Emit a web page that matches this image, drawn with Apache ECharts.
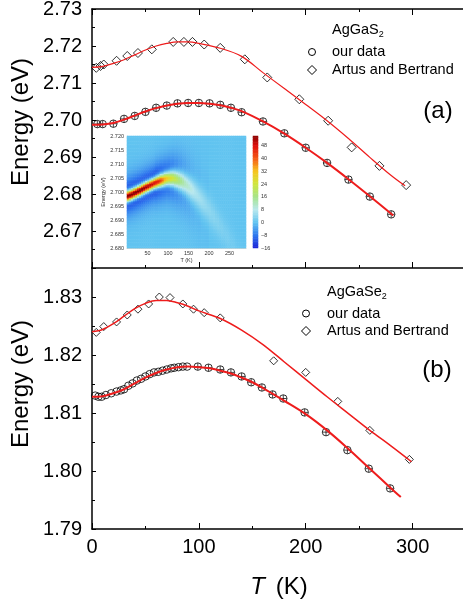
<!DOCTYPE html>
<html>
<head>
<meta charset="utf-8">
<script src="https://cdn.jsdelivr.net/npm/echarts@6/dist/echarts.min.js"></script>
<style>
  html, body { margin: 0; padding: 0; background: #fff; }
  #c { width: 463px; height: 605px; }
</style>
</head>
<body>
<div id="c"></div>
<script>
// ---------- AgGaS2, panel (a) ----------
const sOurT = [5, 10, 20, 30, 40, 50, 60, 70, 80, 90, 100, 110, 120, 130, 140, 160, 180, 200, 220, 240, 260, 280];
const sOurE = [2.6989, 2.6989, 2.6990, 2.7003, 2.7011, 2.7022, 2.7033, 2.7039, 2.7045, 2.7046, 2.7046, 2.7045, 2.7041, 2.7033, 2.7021, 2.6996, 2.6964, 2.6925, 2.6884, 2.6839, 2.6793, 2.6745];
const sArtT = [4, 8, 11, 23, 33, 43, 56, 76, 86, 94, 105, 120, 143, 164, 194, 221, 243, 269, 294];
const sArtE = [2.7141, 2.7146, 2.7150, 2.7160, 2.7173, 2.7181, 2.7191, 2.7211, 2.7211, 2.7211, 2.7204, 2.7195, 2.7164, 2.7115, 2.7056, 2.6998, 2.6926, 2.6876, 2.6824];
const sOurFitT = [0, 10, 20, 30, 40, 50, 60, 70, 80, 90, 100, 110, 120, 130, 140, 160, 180, 200, 220, 240, 260, 282];
const sOurFitE = [2.6987, 2.6988, 2.6992, 2.7001, 2.7012, 2.7023, 2.7032, 2.7039, 2.7044, 2.7046, 2.7046, 2.7044, 2.7040, 2.7033, 2.7024, 2.6996, 2.6963, 2.6925, 2.6884, 2.6840, 2.6794, 2.6742];
const sArtFitT = [0, 10, 20, 30, 40, 50, 60, 70, 80, 90, 100, 120, 140, 160, 180, 200, 220, 240, 260, 280, 293];
const sArtFitE = [2.7142, 2.7145, 2.7153, 2.7163, 2.7176, 2.7189, 2.7200, 2.7207, 2.7211, 2.7211, 2.7207, 2.7194, 2.7172, 2.7128, 2.7085, 2.7042, 2.6998, 2.6950, 2.6899, 2.6850, 2.6822];

// ---------- AgGaSe2, panel (b) ----------
const seOurT = [3, 6, 9, 13, 18, 23, 27, 30, 34, 38, 42, 46, 50, 54, 58, 62, 66, 70, 74, 77, 81, 85, 89, 99, 109, 120, 130, 140, 149, 159, 169, 179, 199, 219, 239, 259, 279];
const seOurE = [1.8130, 1.8128, 1.8128, 1.8131, 1.8134, 1.8137, 1.8139, 1.8141, 1.8147, 1.8151, 1.8156, 1.8159, 1.8163, 1.8167, 1.8170, 1.8171, 1.8173, 1.8175, 1.8177, 1.8178, 1.8179, 1.8180, 1.8180, 1.8180, 1.8178, 1.8175, 1.8170, 1.8163, 1.8153, 1.8144, 1.8132, 1.8125, 1.8101, 1.8067, 1.8036, 1.8004, 1.7970];
const seArtT = [4, 11, 23, 33, 43, 53, 63, 73, 85, 95, 105, 120, 170, 200, 230, 260, 297];
const seArtE = [1.8239, 1.8249, 1.8257, 1.8269, 1.8279, 1.8288, 1.8300, 1.8299, 1.8288, 1.8279, 1.8273, 1.8264, 1.8190, 1.8170, 1.8120, 1.8070, 1.8020];
const seOurFitT = [0, 10, 20, 30, 40, 50, 60, 70, 80, 90, 100, 110, 120, 130, 140, 150, 160, 170, 180, 200, 220, 240, 260, 280, 289];
const seOurFitE = [1.8128, 1.8129, 1.8134, 1.8141, 1.8151, 1.8161, 1.8169, 1.8175, 1.8179, 1.8180, 1.8179, 1.8177, 1.8173, 1.8168, 1.8161, 1.8153, 1.8143, 1.8132, 1.8121, 1.8098, 1.8070, 1.8038, 1.8004, 1.7970, 1.7955];
const seArtFitT = [0, 10, 20, 30, 40, 50, 60, 70, 80, 90, 100, 120, 140, 160, 180, 200, 220, 240, 260, 280, 299];
const seArtFitE = [1.8240, 1.8244, 1.8254, 1.8267, 1.8280, 1.8289, 1.8294, 1.8294, 1.8290, 1.8284, 1.8276, 1.8263, 1.8243, 1.8218, 1.8188, 1.8158, 1.8128, 1.8099, 1.8070, 1.8043, 1.8016];

// ---------- inset map: band centre, height, width and side lobes per 5 K column ----------
const mapT = [2.5, 7.5, 12.5, 17.5, 22.5, 27.5, 32.5, 37.5, 42.5, 47.5,
  52.5, 57.5, 62.5, 67.5, 72.5, 77.5, 82.5, 87.5, 92.5, 97.5,
  102.5, 107.5, 112.5, 117.5, 122.5, 127.5, 132.5, 137.5, 142.5, 147.5,
  152.5, 157.5, 162.5, 167.5, 172.5, 177.5, 182.5, 187.5, 192.5, 197.5,
  202.5, 207.5, 212.5, 217.5, 222.5, 227.5, 232.5, 237.5, 242.5, 247.5,
  252.5, 257.5, 262.5, 267.5, 272.5, 277.5, 282.5, 287.5];
const mapE = [2.6986, 2.6989, 2.6992, 2.6996, 2.6999, 2.7003, 2.7006, 2.7010, 2.7014, 2.7018,
  2.7021, 2.7025, 2.7028, 2.7032, 2.7035, 2.7038, 2.7041, 2.7043, 2.7046, 2.7048,
  2.7049, 2.7049, 2.7049, 2.7047, 2.7045, 2.7042, 2.7039, 2.7035, 2.7030, 2.7024,
  2.7018, 2.7011, 2.7004, 2.6996, 2.6988, 2.6979, 2.6970, 2.6961, 2.6952, 2.6942,
  2.6932, 2.6922, 2.6911, 2.6901, 2.6890, 2.6879, 2.6868, 2.6857, 2.6846, 2.6835,
  2.6824, 2.6812, 2.6801, 2.6789, 2.6778, 2.6766, 2.6755, 2.6743];
const mapPeak = [55, 55, 55, 55, 55, 55, 55, 55, 54, 53,
  52, 51, 50, 49, 47, 46, 43, 39, 34, 31,
  28, 26, 24, 22, 20, 18, 16, 14, 12, 11,
  10, 9, 8, 7, 6.5, 6, 5.5, 5, 4.5, 4,
  4, 3.5, 3.5, 3, 3, 2.5, 2.5, 2, 2, 2,
  1.5, 1.5, 1.5, 1, 1, 1, 1, 1];
const mapWidth = [0.0013, 0.0013, 0.0013, 0.0013, 0.0013, 0.0013, 0.0013, 0.0013, 0.0013, 0.0013,
  0.0013, 0.0013, 0.0013, 0.0013, 0.0014, 0.0014, 0.0015, 0.0015, 0.0016, 0.0016,
  0.0017, 0.0018, 0.0019, 0.0020, 0.0021, 0.0022, 0.0023, 0.0024, 0.0025, 0.0026,
  0.0027, 0.0028, 0.0029, 0.0030, 0.0031, 0.0032, 0.0033, 0.0034, 0.0035, 0.0035,
  0.0035, 0.0035, 0.0035, 0.0035, 0.0035, 0.0035, 0.0035, 0.0035, 0.0035, 0.0035,
  0.0035, 0.0035, 0.0035, 0.0035, 0.0035, 0.0035, 0.0035, 0.0035];
const mapFlank = [12, 12, 12, 12, 12, 12, 12, 12, 12, 12,
  12, 12, 12, 12, 12, 11, 11, 10, 10, 9,
  9, 8, 8, 7, 7, 6, 6, 5, 5, 4,
  4, 3, 3, 2, 2, 2, 1, 1, 1, 1,
  0, 0, 0, 0, 0, 0, 0, 0, 0, 0,
  0, 0, 0, 0, 0, 0, 0, 0];
const mapDip = [4, 4, 4, 4, 4, 4, 4, 4, 4, 4,
  4, 4, 4, 4, 4, 4, 3.5, 3.5, 3, 3,
  3, 2.5, 2.5, 2, 2, 1.5, 1.5, 1, 1, 0.5,
  0.5, 0, 0, 0, 0, 0, 0, 0, 0, 0,
  0, 0, 0, 0, 0, 0, 0, 0, 0, 0,
  0, 0, 0, 0, 0, 0, 0, 0];
const mapEmin = 2.680, mapStep = 0.0005, mapRows = 80;
const barMin = -16, barMax = 54;

const FONT = '"Liberation Sans", Arial, Helvetica, sans-serif';
const zip = (a, b) => a.map((v, i) => [v, b[i]]);

// cells of the inset map
const heatData = [];
mapT.forEach((t, c) => {
  const w = mapWidth[c];
  for (let r = 0; r < mapRows; r++) {
    const e = mapEmin + (r + 0.5) * mapStep;
    const d = e - mapE[c];
    const v = (mapPeak[c] + mapFlank[c] + mapDip[c]) * Math.exp(-0.5 * (d / w) ** 2)
            - mapFlank[c] * Math.exp(-0.5 * (d / (3 * w)) ** 2)
            - mapDip[c] * Math.exp(-0.5 * (d / 0.006) ** 2);
    heatData.push([c, r, +v.toFixed(2)]);
  }
});
const mapRowCats = Array.from({ length: mapRows }, (_, r) => (mapEmin + (r + 0.5) * mapStep).toFixed(5));

// colour bar cells
const barCats = [], barData = [];
for (let i = 0; i < barMax - barMin; i++) {
  barCats.push(String(barMin + i + 0.5));
  barData.push([0, i, barMin + i + 0.5]);
}

const black = '#000';
const axisLine = { show: true, lineStyle: { color: black, width: 1.5 } };
const xTicks = { show: true, inside: true, length: 6, lineStyle: { color: black, width: 1 } };
const xMinor = { show: true, splitNumber: 2, length: 3, lineStyle: { color: black, width: 1 } };
const yTicks = { show: true, inside: true, length: 4, lineStyle: { color: black, width: 1 } };
const yMinor = { show: true, splitNumber: 2, length: 3, lineStyle: { color: black, width: 1 } };
const tickFont = { fontFamily: FONT, fontSize: 20, color: black };

const circleStyle = { color: 'rgba(0,0,0,0)', borderColor: black, borderWidth: 1 };
const crossSymbol = 'path://M0,-1L0,1M-1,0L1,0';

function scatter(name, xi, yi, data, symbol, size) {
  return {
    type: 'scatter', name, xAxisIndex: xi, yAxisIndex: yi, data,
    symbol, symbolSize: size, itemStyle: circleStyle, z: 4,
    emphasis: { disabled: true }, silent: true
  };
}
function cross(xi, yi, data, size) {
  return {
    type: 'scatter', xAxisIndex: xi, yAxisIndex: yi, data,
    symbol: crossSymbol, symbolSize: size,
    itemStyle: { color: 'none', borderColor: black, borderWidth: 0.9 }, z: 4,
    emphasis: { disabled: true }, silent: true
  };
}
function fit(xi, yi, data, width) {
  return {
    type: 'line', xAxisIndex: xi, yAxisIndex: yi, data, smooth: 0.35,
    showSymbol: false, symbol: 'none', lineStyle: { color: '#ee1c1c', width }, z: 5,
    emphasis: { disabled: true }, silent: true
  };
}

const seCrossData = zip(seOurT, seOurE).filter(p => p[0] >= 95);

const ctx = document.createElement('canvas').getContext('2d');
ctx.font = '14.5px ' + FONT;
const wS = ctx.measureText('AgGaS').width;
const wSe = ctx.measureText('AgGaSe').width;

const option = {
  animation: false,
  backgroundColor: '#fff',
  grid: [
    { left: 92, top: 9, width: 374, height: 259, outerBoundsMode: 'none', containLabel: false },
    { left: 92, top: 268, width: 374, height: 261, outerBoundsMode: 'none', containLabel: false },
    { left: 127, top: 136, width: 119, height: 112, outerBoundsMode: 'none', containLabel: false },
    { left: 253, top: 136, width: 5, height: 112, outerBoundsMode: 'none', containLabel: false }
  ],
  xAxis: [
    { gridIndex: 0, type: 'value', min: 0, max: 350, interval: 100, position: 'bottom',
      axisLine, axisTick: xTicks, minorTick: xMinor, axisLabel: { show: false }, splitLine: { show: false } },
    { gridIndex: 0, type: 'value', min: 0, max: 350, interval: 100, position: 'top',
      axisLine, axisTick: xTicks, minorTick: xMinor, axisLabel: { show: false }, splitLine: { show: false } },
    { gridIndex: 1, type: 'value', min: 0, max: 350, interval: 100, position: 'bottom',
      axisLine, axisTick: xTicks, minorTick: xMinor, splitLine: { show: false },
      axisLabel: Object.assign({ margin: 8, showMaxLabel: false }, tickFont),
      name: '{i|T} (K)', nameLocation: 'middle', nameGap: 46,
      nameTextStyle: { fontFamily: FONT, fontSize: 24, color: black,
        rich: { i: { fontFamily: FONT, fontSize: 24, fontStyle: 'italic', color: black, padding: [0, 4, 0, 0] } } } },
    { gridIndex: 2, type: 'category', data: mapT.map(String), position: 'top', show: false },
    { gridIndex: 2, type: 'value', min: 0, max: 290, interval: 50, position: 'bottom',
      axisLine: { show: true, lineStyle: { color: '#9aa', width: 0.5 } },
      axisTick: { show: false }, splitLine: { show: false },
      axisLabel: { showMinLabel: false, showMaxLabel: false, margin: 2, fontFamily: FONT, fontSize: 5.5, color: '#333' },
      name: 'T (K)', nameLocation: 'middle', nameGap: 9,
      nameTextStyle: { fontFamily: FONT, fontSize: 5.5, color: '#333' } },
    { gridIndex: 3, type: 'category', data: ['c'], position: 'bottom', show: false }
  ],
  yAxis: [
    { gridIndex: 0, type: 'value', min: 2.66, max: 2.73, interval: 0.01,
      axisLine, axisTick: yTicks, minorTick: yMinor, splitLine: { show: false },
      axisLabel: Object.assign({ margin: 10, showMinLabel: false, formatter: v => v.toFixed(2) }, tickFont) },
    { gridIndex: 1, type: 'value', min: 1.79, max: 1.835, interval: 0.01,
      axisLine, axisTick: yTicks, minorTick: yMinor, splitLine: { show: false },
      axisLabel: Object.assign({ margin: 10, showMaxLabel: false, formatter: v => v.toFixed(2) }, tickFont) },
    { gridIndex: 2, type: 'category', data: mapRowCats, position: 'right', show: false },
    { gridIndex: 2, type: 'value', min: 2.68, max: 2.72, interval: 0.005, position: 'left',
      axisLine: { show: true, lineStyle: { color: '#9aa', width: 0.5 } },
      axisTick: { show: false }, splitLine: { show: false },
      axisLabel: { margin: 3, fontFamily: FONT, fontSize: 5.5, color: '#333', formatter: v => v.toFixed(3) },
      name: 'Energy (eV)', nameLocation: 'middle', nameGap: 17, nameRotate: 90,
      nameTextStyle: { fontFamily: FONT, fontSize: 5.5, color: '#333' } },
    { gridIndex: 3, type: 'category', data: barCats, position: 'left', show: false },
    { gridIndex: 3, type: 'value', min: barMin, max: barMax, interval: 8, position: 'right',
      axisLine: { show: false }, axisTick: { show: false }, splitLine: { show: false },
      axisLabel: { margin: 3, showMaxLabel: false, fontFamily: FONT, fontSize: 5.5, color: '#333',
        formatter: v => String(v).replace('-', '\u2212') } }
  ],
  visualMap: {
    type: 'continuous', show: false, min: -16, max: 56, dimension: 2, seriesIndex: [10, 11],
    inRange: { color: ['#1c22d6', '#2f78ee', '#62c4f0', '#b9e8ee', '#a6e48c', '#cfe63e', '#f7c520', '#f45a16', '#e00d0b', '#700000'] }
  },
  series: [
    scatter('our data', 0, 0, zip(sOurT, sOurE), 'circle', 7.5),
    cross(0, 0, zip(sOurT, sOurE), 7),
    scatter('Artus and Bertrand', 0, 0, zip(sArtT, sArtE), 'diamond', 9),
    fit(0, 0, zip(sOurFitT, sOurFitE), 2),
    fit(0, 0, zip(sArtFitT, sArtFitE), 1.2),
    scatter('our data', 2, 1, zip(seOurT, seOurE), 'circle', 7.5),
    cross(2, 1, seCrossData, 7),
    scatter('Artus and Bertrand', 2, 1, zip(seArtT, seArtE), 'diamond', 8),
    fit(2, 1, zip(seOurFitT, seOurFitE), 2),
    fit(2, 1, zip(seArtFitT, seArtFitE), 1.5),
    { type: 'heatmap', xAxisIndex: 3, yAxisIndex: 2, data: heatData, progressive: 0, z: 6,
      itemStyle: { borderWidth: 0 }, emphasis: { disabled: true }, silent: true },
    { type: 'heatmap', xAxisIndex: 5, yAxisIndex: 4, data: barData, progressive: 0, z: 6,
      itemStyle: { borderWidth: 0 }, emphasis: { disabled: true }, silent: true }
  ],
  graphic: [
    { type: 'text', x: 21, y: 122, rotation: Math.PI / 2,
      style: { text: 'Energy (eV)', font: '24px ' + FONT, fill: black, align: 'center', verticalAlign: 'middle' } },
    { type: 'text', x: 21, y: 384, rotation: Math.PI / 2,
      style: { text: 'Energy (eV)', font: '24px ' + FONT, fill: black, align: 'center', verticalAlign: 'middle' } },
    { type: 'text', x: 438, y: 111,
      style: { text: '(a)', font: '24px ' + FONT, fill: black, align: 'center', verticalAlign: 'middle' } },
    { type: 'text', x: 437, y: 370,
      style: { text: '(b)', font: '24px ' + FONT, fill: black, align: 'center', verticalAlign: 'middle' } },
    // legend, panel (a)
    { type: 'text', x: 332, y: 30,
      style: { text: 'AgGaS', font: '14.5px ' + FONT, fill: black, align: 'left', verticalAlign: 'middle' } },
    { type: 'text', x: 332 + wS, y: 35,
      style: { text: '2', font: '9px ' + FONT, fill: black, align: 'left', verticalAlign: 'middle' } },
    { type: 'circle', shape: { cx: 312, cy: 52, r: 3.5 }, style: { fill: 'none', stroke: black, lineWidth: 1 } },
    { type: 'text', x: 332, y: 52,
      style: { text: 'our data', font: '14.5px ' + FONT, fill: black, align: 'left', verticalAlign: 'middle' } },
    { type: 'polygon', shape: { points: [[312, 65.5], [316.5, 70], [312, 74.5], [307.5, 70]] }, style: { fill: 'none', stroke: black, lineWidth: 1 } },
    { type: 'text', x: 332, y: 70,
      style: { text: 'Artus and Bertrand', font: '14.5px ' + FONT, fill: black, align: 'left', verticalAlign: 'middle' } },
    // legend, panel (b)
    { type: 'text', x: 327, y: 292,
      style: { text: 'AgGaSe', font: '14.5px ' + FONT, fill: black, align: 'left', verticalAlign: 'middle' } },
    { type: 'text', x: 327 + wSe, y: 297,
      style: { text: '2', font: '9px ' + FONT, fill: black, align: 'left', verticalAlign: 'middle' } },
    { type: 'circle', shape: { cx: 306, cy: 313.5, r: 3.5 }, style: { fill: 'none', stroke: black, lineWidth: 1 } },
    { type: 'text', x: 327, y: 313.5,
      style: { text: 'our data', font: '14.5px ' + FONT, fill: black, align: 'left', verticalAlign: 'middle' } },
    { type: 'polygon', shape: { points: [[306, 326.5], [310.5, 331], [306, 335.5], [301.5, 331]] }, style: { fill: 'none', stroke: black, lineWidth: 1 } },
    { type: 'text', x: 327, y: 331,
      style: { text: 'Artus and Bertrand', font: '14.5px ' + FONT, fill: black, align: 'left', verticalAlign: 'middle' } }
  ]
};

const chart = echarts.init(document.getElementById('c'), null, { renderer: 'canvas', width: 463, height: 605 });
chart.setOption(option);
</script>
</body>
</html>
